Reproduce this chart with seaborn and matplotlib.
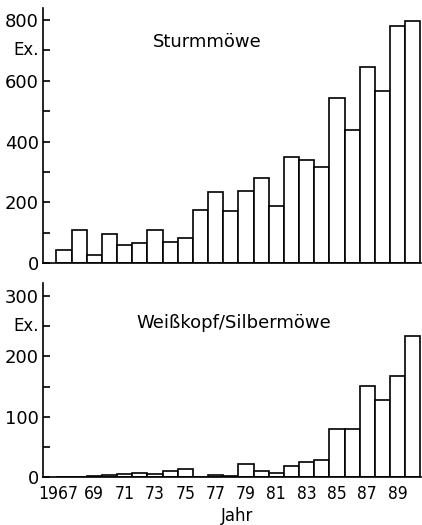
import seaborn as sns
import pandas as pd
import matplotlib.pyplot as plt
from matplotlib.transforms import ScaledTranslation

# Jahre und Anzahlen (Ex.)
years = list(range(1967, 1991))
sturm = [44, 110, 27, 96, 60, 67, 110, 70, 81, 173, 233, 170, 238, 280, 189,
         349, 340, 316, 542, 438, 645, 566, 780, 798]
silber = [0, 0, 1, 3, 5, 7, 4.5, 10.5, 13, 0.5, 4, 1, 21.5, 10.5, 6.5, 18, 25,
          28, 80, 80, 151, 128, 168, 234]
tick_years = list(range(1967, 1990, 2))
tick_labels = ["1967"] + [str(y)[2:] for y in tick_years[1:]]


def draw_panel(ax, values, title, ymax, major, minor, ex_pos, title_xy):
    df = pd.DataFrame({"Jahr": years, "Ex": values})
    sns.barplot(data=df, x="Jahr", y="Ex", native_scale=True, width=1,
                color="white", edgecolor="black", linewidth=1.2, ax=ax,
                saturation=1, errorbar=None)
    ax.set_xlim(1965.62, 1990.55)
    ax.set_ylim(0, ymax)
    sns.despine(ax=ax)
    for s in ("left", "bottom"):
        ax.spines[s].set_linewidth(1.2)
    ax.set_yticks(major)
    ax.set_yticks(minor, minor=True)
    ax.set_yticklabels([str(v) for v in major])
    ax.tick_params(axis="y", which="both", direction="in", length=5,
                   width=1.2, pad=3, labelsize=13)
    ax.set_ylabel("")
    ax.set_xlabel("")
    ax.text(-0.012, ex_pos, "Ex.", transform=ax.get_yaxis_transform(),
            ha="right", va="center", fontsize=12)
    ax.text(title_xy[0], title_xy[1], title, transform=ax.transAxes,
            ha="center", va="center", fontsize=13)


fig = plt.figure(figsize=(4.22, 5.25), dpi=100)
ax1 = fig.add_axes([0.102, 0.499, 0.896, 0.486])
ax2 = fig.add_axes([0.102, 0.0914, 0.896, 0.3696])

draw_panel(ax1, sturm, "Sturmmöwe", 840, [0, 200, 400, 600, 800],
           [100, 300, 500, 700], 700, (0.434, 0.867))
draw_panel(ax2, silber, "Weißkopf/Silbermöwe", 322, [0, 100, 200, 300],
           [50, 150, 250], 250, (0.505, 0.794))

ax1.set_xticks([])
ax2.set_xticks(tick_years)
ax2.set_xticklabels(tick_labels, fontsize=12.5, fontstretch="condensed")
ax2.tick_params(axis="x", length=0, pad=6)
# "1967" steht etwas links vom Balken
first = ax2.get_xticklabels()[0]
first.set_transform(first.get_transform()
                    + ScaledTranslation(-6 / 100, 0, fig.dpi_scale_trans))
ax2.set_xlabel("Jahr", fontsize=12)
ax2.xaxis.set_label_coords(0.513, -0.152)

fig.savefig("out.png", dpi=100)
